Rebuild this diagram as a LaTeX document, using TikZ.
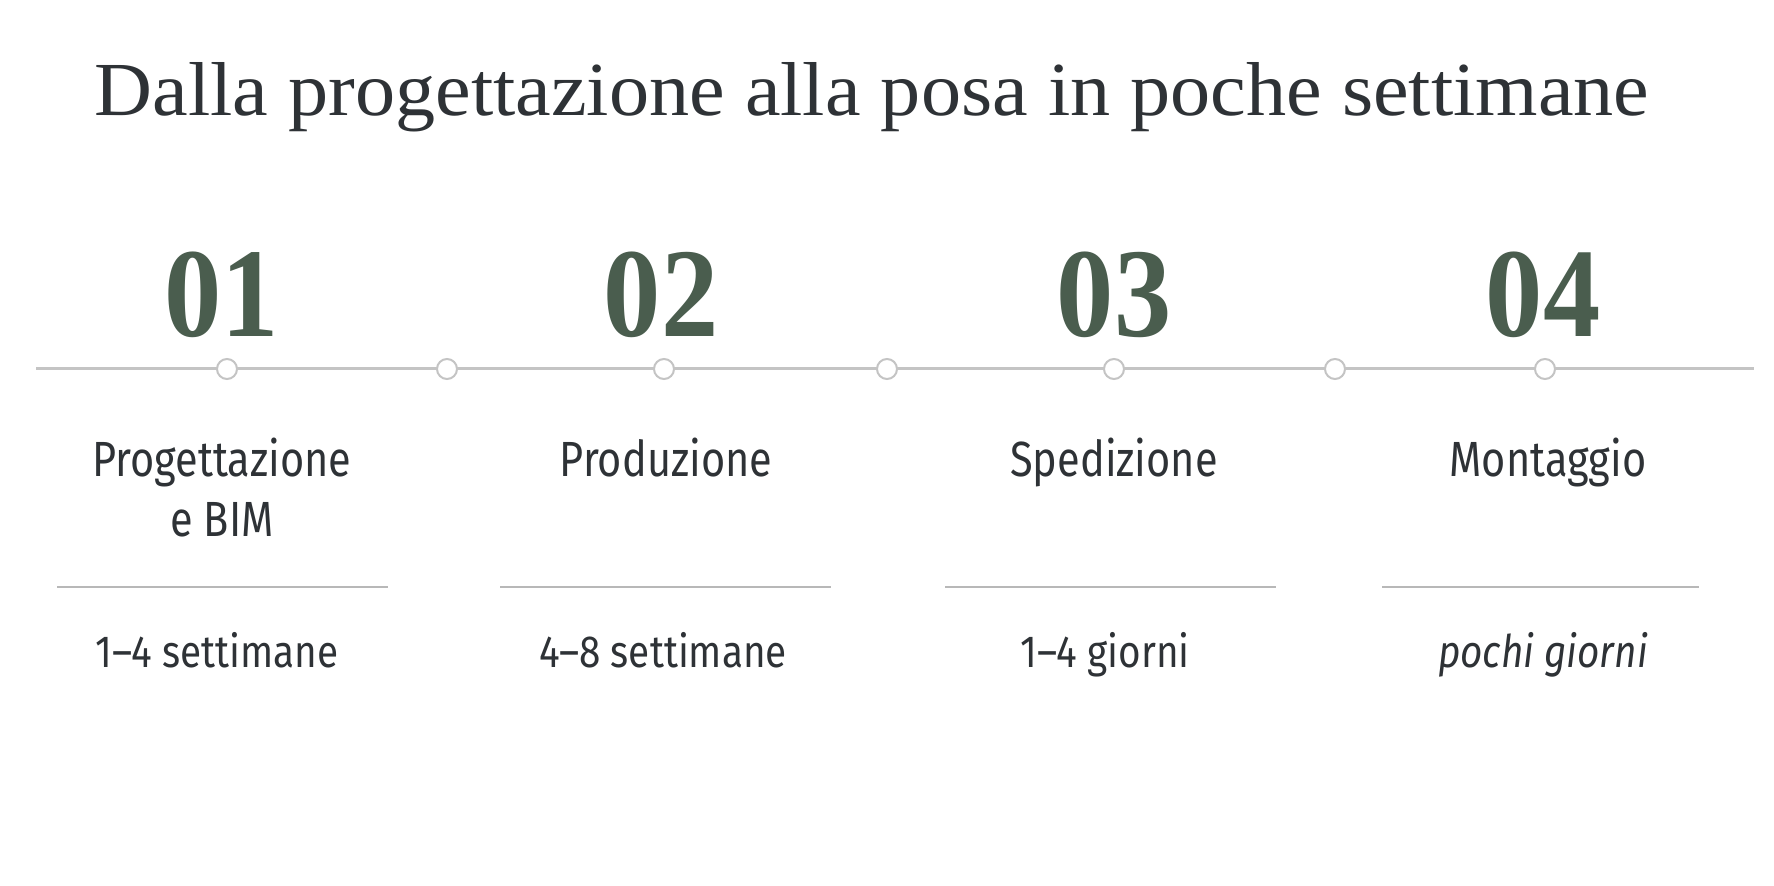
\documentclass[tikz,border=0pt]{standalone}
\usepackage{fontspec}
\setmainfont{Liberation Serif}
\newfontfamily\titlefont[FakeStretch=1.05]{Liberation Serif}
\newfontfamily\numfont[FakeStretch=0.9]{Liberation Serif}
\newfontfamily\labfont[FakeStretch=0.84]{Fira Sans}
\newfontfamily\durfont[FakeStretch=0.86]{Fira Sans}
\definecolor{numgreen}{HTML}{4A5D4E}
\definecolor{txt}{HTML}{2E3236}
\definecolor{tline}{HTML}{C4C4C4}
\definecolor{sepgray}{HTML}{B8B8B8}
\tikzset{
  titlestyle/.style={anchor=base, text=txt, inner sep=0pt, font=\titlefont\fontsize{38.2}{40}\selectfont},
  numstyle/.style={anchor=base, text=numgreen, inner sep=0pt, font=\numfont\bfseries\fontsize{63.6}{64}\selectfont},
  labstyle/.style={anchor=base, text=txt, inner sep=0pt, align=center, font=\labfont\fontsize{24.7}{30}\selectfont},
  durstyle/.style={anchor=base, text=txt, inner sep=0pt, font=\durfont\fontsize{22.5}{26}\selectfont},
  dot/.style={circle, draw=tline, fill=white, line width=1pt, minimum size=10pt, inner sep=0pt},
  tlinestyle/.style={draw=tline, line width=1.5pt},
  sepstyle/.style={draw=sepgray, line width=0.6pt}
}
\begin{document}
\begin{tikzpicture}[x=0.5pt, y=-0.5pt]
\useasboundingbox[fill=white] (0,0) rectangle (1774,886);
% title
\node[titlestyle] (title) at (872,116) {Dalla progettazione alla posa in poche settimane};
% numbers
\node[numstyle] (n1) at (222,337) {01};
\node[numstyle] (n2) at (661,337) {02};
\node[numstyle] (n3) at (1114,337) {03};
\node[numstyle] (n4) at (1543,337) {04};
% timeline
\coordinate (tl) at (36,369);
\coordinate (tr) at (1754,369);
\draw[tlinestyle] (tl) -- (tr);
\foreach \i/\x in {1/227,2/447,3/664,4/887,5/1114,6/1335,7/1545}{
  \node[dot] (c\i) at (\x,369) {};
}
% labels
\node[labstyle] (l1) at (222,477) {Progettazione};
\node[labstyle] (l1b) at (222,537) {e BIM};
\node[labstyle] (l2) at (666,477) {Produzione};
\node[labstyle] (l3) at (1114,477) {Spedizione};
\node[labstyle] (l4) at (1548,477) {Montaggio};
% separators
\coordinate (s1a) at (57,587); \coordinate (s1b) at (388,587);
\coordinate (s2a) at (500,587); \coordinate (s2b) at (831,587);
\coordinate (s3a) at (945,587); \coordinate (s3b) at (1276,587);
\coordinate (s4a) at (1382,587); \coordinate (s4b) at (1699,587);
\draw[sepstyle] (s1a) -- (s1b);
\draw[sepstyle] (s2a) -- (s2b);
\draw[sepstyle] (s3a) -- (s3b);
\draw[sepstyle] (s4a) -- (s4b);
% durations
\node[durstyle] (d1) at (217,668) {1–4 settimane};
\node[durstyle] (d2) at (663,668) {4–8 settimane};
\node[durstyle] (d3) at (1105,668) {1–4 giorni};
\node[durstyle] (d4) at (1543,668) {\itshape pochi giorni};
\end{tikzpicture}
\end{document}
